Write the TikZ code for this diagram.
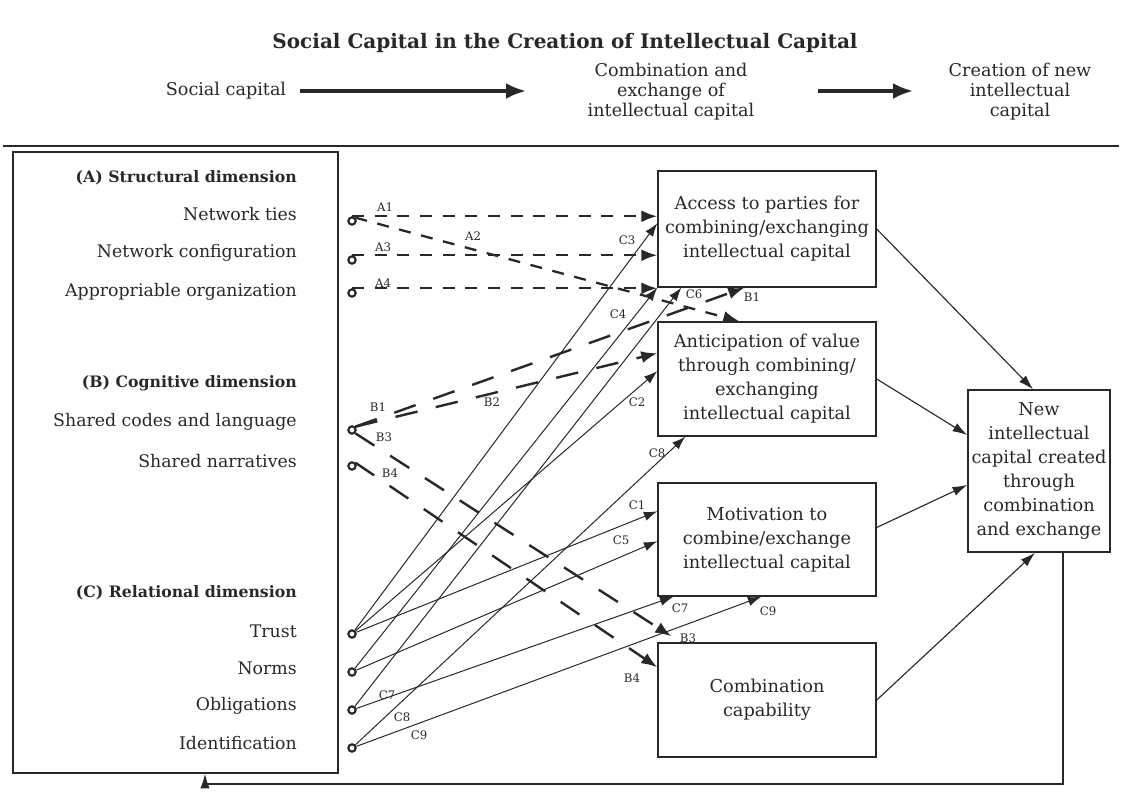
\documentclass[tikz,border=0pt]{standalone}
\usepackage{fontspec}
\setmainfont{DejaVu Serif}
\usetikzlibrary{arrows.meta,calc}
\definecolor{ink}{RGB}{40,40,40}
\begin{document}
\begin{tikzpicture}[x=0.75pt,y=-0.75pt,
  every node/.style={text=ink},
  box/.style={draw=ink, line width=1.1pt, align=center, inner sep=0pt,
    font=\fontsize{13.3}{18}\selectfont, minimum width=163.5pt},
  lbl/.style={anchor=east, inner sep=0pt, font=\fontsize{13}{15}\selectfont},
  hdr/.style={lbl, font=\bfseries\fontsize{11.8}{14}\selectfont},
  tag/.style={inner sep=0pt, font=\fontsize{8.8}{10}\selectfont},
  orig/.style={circle, draw=ink, line width=1.6pt, minimum size=5.5pt, inner sep=0pt},
  dA/.style={draw=ink, line width=1.7pt, dash pattern=on 9pt off 8pt, -{Latex[length=12pt,width=9pt]}},
  dB/.style={draw=ink, line width=1.8pt, dash pattern=on 17pt off 14pt, -{Latex[length=12pt,width=9pt]}},
  cl/.style={draw=ink, line width=0.75pt, -{Latex[length=10pt,width=7pt]}},
  fl/.style={draw=ink, line width=0.85pt, -{Latex[length=11pt,width=7pt]}},
  harrow/.style={draw=ink, line width=2.6pt, -{Latex[length=15pt,width=12pt]}},
  htext/.style={align=center, inner sep=0pt, font=\fontsize{13.2}{15}\selectfont}
]
\useasboundingbox (0,0) rectangle (1122,792);

% title and header
\node[font=\bfseries\fontsize{15}{18}\selectfont, inner sep=0pt] (title) at (565,43) {Social Capital in the Creation of Intellectual Capital};
\node[htext] (hs) at (226,91) {Social capital};
\node[htext] (hc) at (671,92) {Combination and\\exchange of\\intellectual capital};
\node[htext] (hn) at (1020,92) {Creation of new\\intellectual\\capital};
\coordinate (h1a) at (300,91);
\coordinate (h1b) at (526,91);
\coordinate (h2a) at (818,91);
\coordinate (h2b) at (913,91);
\draw[harrow] (h1a) -- (h1b);
\draw[harrow] (h2a) -- (h2b);
\draw[draw=ink, line width=1.3pt] (3,146) -- (1119,146);

% left box
\node[draw=ink, line width=1.1pt, minimum width=243.75pt, minimum height=465.75pt, inner sep=0pt] (lb) at (175.5,462.5) {};
\node[hdr] (hA) at (297,178) {(A) Structural dimension};
\node[lbl] (lA1) at (297,214) {Network ties};
\node[lbl] (lA3) at (297,253) {Network configuration};
\node[lbl] (lA4) at (297,292) {Appropriable organization};
\node[hdr] (hB) at (297,383) {(B) Cognitive dimension};
\node[lbl] (lB1) at (297,422) {Shared codes and language};
\node[lbl] (lB4) at (297,461) {Shared narratives};
\node[hdr] (hC) at (297,593) {(C) Relational dimension};
\node[lbl] (lT) at (297,631) {Trust};
\node[lbl] (lN) at (297,668) {Norms};
\node[lbl] (lO) at (297,706) {Obligations};
\node[lbl] (lI) at (297,743) {Identification};

% origins
\node[orig] (oA1) at (352,221) {};
\node[orig] (oA3) at (352,260) {};
\node[orig] (oA4) at (352,293) {};
\node[orig] (oB1) at (352,430) {};
\node[orig] (oB4) at (352,466) {};
\node[orig] (oT) at (352,634) {};
\node[orig] (oN) at (352,672) {};
\node[orig] (oO) at (352,710) {};
\node[orig] (oI) at (352,748) {};

% boxes
\node[box, minimum height=87pt] (b1) at (767,229) {Access to parties for\\combining/exchanging\\intellectual capital};
\node[box, minimum height=85.5pt] (b2) at (767,379) {Anticipation of value\\through combining/\\exchanging\\intellectual capital};
\node[box, minimum height=84.75pt] (b3) at (767,539.5) {Motivation to\\combine/exchange\\intellectual capital};
\node[box, minimum height=85.5pt] (b4) at (767,700) {Combination\\capability};
\node[box, minimum width=106.5pt, minimum height=121.5pt] (b5) at (1039,471) {New\\intellectual\\capital created\\through\\combination\\and exchange};

% targets
\coordinate (tA2) at ($(b2.north west)+(82,0)$);
\coordinate (tB1) at ($(b1.south west)+(87,0)$);
\coordinate (tB2) at ($(b2.north west)+(0,32)$);
\coordinate (tB3) at ($(b4.north west)+(14,-6)$);
\coordinate (tB4) at ($(b4.north west)+(0,25)$);
\coordinate (tC1) at ($(b3.north west)+(0,29)$);
\coordinate (tC2) at ($(b2.north west)+(0,50)$);
\coordinate (tC3) at ($(b1.north west)+(0,53)$);
\coordinate (tC5) at ($(b3.north west)+(0,59)$);
\coordinate (tC6) at ($(b1.south west)+(24,0)$);
\coordinate (tC7) at ($(b3.south west)+(16,0)$);
\coordinate (tC8) at ($(b2.south west)+(28,0)$);
\coordinate (tC9) at ($(b3.south west)+(104,0)$);

% A arrows
\draw[dA] (oA1.north) -- (oA1.north -| b1.west);
\draw[dA] (oA1.north east) -- (tA2);
\draw[dA] (oA3.north) -- (oA3.north -| b1.west);
\draw[dA] (oA4.north) -- (oA4.north -| b1.west);
% B arrows
\draw[dB] (oB1.north east) -- (tB1);
\draw[dB] (oB1.north east) -- (tB2);
\draw[dB] (oB1.south east) -- (tB3);
\draw[dB] (oB4.north east) -- (tB4);
% C arrows
\draw[cl] (oT) -- (tC1);
\draw[cl] (oT) -- (tC2);
\draw[cl] (oT) -- (tC3);
\draw[cl] (oN) -- (b1.south west);
\draw[cl] (oN) -- (tC5);
\draw[cl] (oO) -- (tC6);
\draw[cl] (oO) -- (tC7);
\draw[cl] (oI) -- (tC8);
\draw[cl] (oI) -- (tC9);

% to outcome
\draw[fl] (b1.east) -- ($(b5.north)+(-6,0)$);
\draw[fl] (b2.east) -- ($(b5.west)+(0,-36)$);
\draw[fl] ($(b3.east)+(0,-12)$) -- ($(b5.west)+(0,14)$);
\draw[fl] (b4.east) -- ($(b5.south)+(-4,0)$);
% feedback
\coordinate (fbout) at ($(b5.south)+(24,0)$);
\coordinate (fbin) at (lb.south -| 205,0);
\draw[fl] (fbout) -- (fbout |- 0,784) -- (fbin |- 0,784) -- (fbin);

% labels
\node[tag] at (385,207) {A1};
\node[tag] at (473,236) {A2};
\node[tag] at (383,247) {A3};
\node[tag] at (383,283) {A4};
\node[tag] at (378,407) {B1};
\node[tag] at (492,402) {B2};
\node[tag] at (384,437) {B3};
\node[tag] at (390,473) {B4};
\node[tag] at (752,297) {B1};
\node[tag] at (688,638) {B3};
\node[tag] at (632,678) {B4};
\node[tag] at (637,505) {C1};
\node[tag] at (637,402) {C2};
\node[tag] at (627,240) {C3};
\node[tag] at (618,314) {C4};
\node[tag] at (621,540) {C5};
\node[tag] at (694,294) {C6};
\node[tag] at (680,608) {C7};
\node[tag] at (657,453) {C8};
\node[tag] at (768,611) {C9};
\node[tag] at (387,695) {C7};
\node[tag] at (402,717) {C8};
\node[tag] at (419,735) {C9};
\end{tikzpicture}
\end{document}
